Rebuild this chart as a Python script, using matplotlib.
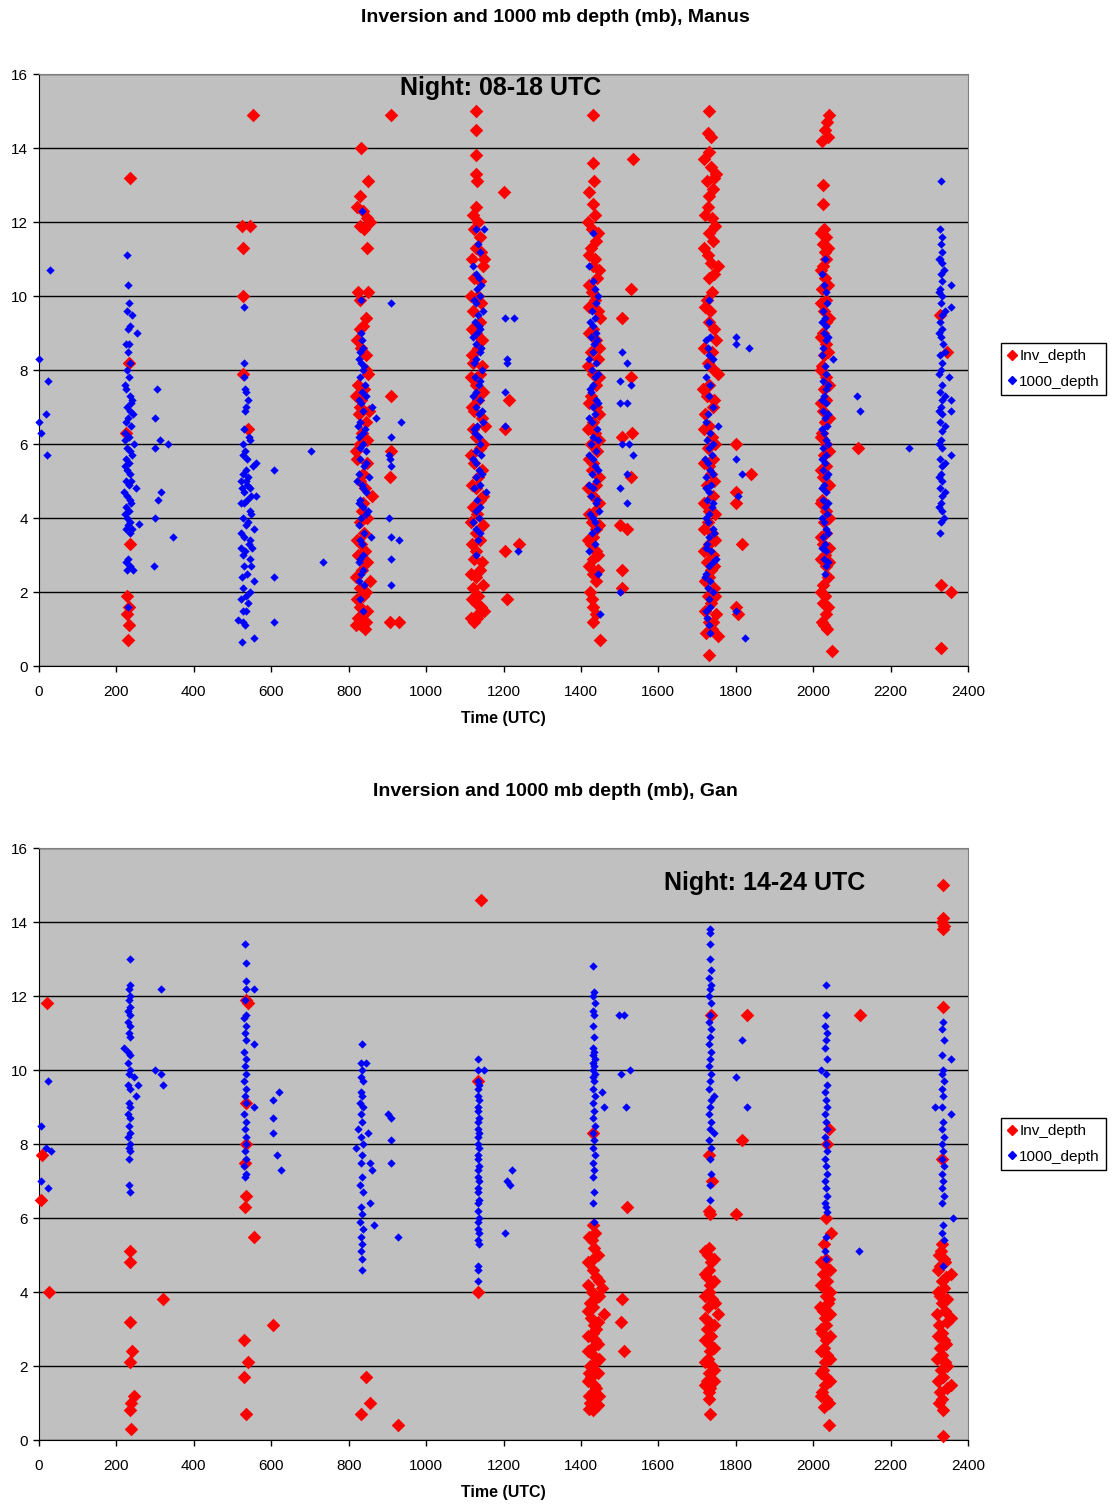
import matplotlib
matplotlib.use("Agg")
import matplotlib.pyplot as plt
from matplotlib.lines import Line2D

# ---------------- DATA (time UTC, depth mb) ----------------
manus_inv = [
    (235,13.2),(232,8.2),(226,6.3),(234,3.3),(228,1.9),(232,1.6),(228,1.4),(232,1.1),(231,0.7),
    (552,14.9),(524,11.9),(545,11.9),(528,11.3),(528,10.0),(528,7.9),(540,6.4),
    (832,14.0),(850,13.1),(830,12.7),(838,12.3),(848,12.1),(855,12.0),(840,11.8),(848,11.3),(825,10.1),
    (850,10.1),(830,9.9),(845,9.4),(838,9.2),(828,9.1),(832,8.6),(845,8.4),(850,7.9),(825,7.6),(840,7.5),
    (832,7.2),(828,7.0),(845,6.6),(835,6.3),(830,6.0),(818,5.8),(848,5.5),(838,5.2),(830,5.0),(842,4.8),
    (860,4.6),(835,4.2),(828,3.9),(840,3.6),(832,3.3),(825,3.0),(848,2.8),(835,2.6),(855,2.3),(828,2.1),
    (838,1.9),(830,1.6),(825,1.3),(840,1.2),(832,1.1),(842,1.0),
    (822,8.8),(846,8.0),(820,7.3),(852,6.9),(826,6.8),(848,6.1),(822,5.6),(836,4.4),(848,4.0),(822,3.4),
    (842,3.1),(818,2.4),(846,2.0),(822,1.8),(848,1.5),(836,1.4),(820,1.1),(845,1.2),(830,11.9),(822,12.4),
    (910,14.9),(910,7.3),(910,5.8),(908,5.1),(908,1.2),(930,1.2),
    (1130,15.0),(1128,14.5),(1130,13.8),(1128,13.3),(1132,13.1),(1128,12.4),(1122,12.2),(1135,12.0),
    (1125,11.8),(1138,11.6),(1128,11.3),(1142,11.2),(1150,11.0),(1148,10.8),(1125,10.5),(1135,10.0),
    (1120,9.6),(1140,9.3),(1128,9.0),(1135,8.6),(1122,8.2),(1140,7.9),(1128,7.6),(1135,7.2),(1125,6.9),
    (1145,6.7),(1152,6.5),(1130,6.2),(1138,5.9),(1125,5.5),(1135,5.1),(1128,4.8),(1140,4.5),(1132,4.1),
    (1115,3.9),(1128,3.6),(1140,3.4),(1130,3.1),(1125,2.9),(1138,2.6),(1130,2.4),(1122,2.1),(1135,1.9),
    (1128,1.7),(1150,1.5),(1115,1.3),(1125,1.2),(1132,1.3),
    (1118,11.0),(1140,10.4),(1115,10.0),(1142,9.8),(1118,9.1),(1145,8.8),(1118,8.4),(1144,8.1),(1115,7.8),
    (1146,7.4),(1118,7.0),(1120,6.4),(1148,6.0),(1115,5.7),(1145,5.3),(1118,4.9),(1146,4.6),(1120,4.3),
    (1148,3.8),(1118,3.3),(1145,2.8),(1115,2.5),(1146,2.2),(1118,1.8),(1142,1.6),(1135,1.4),
    (1200,12.8),(1215,7.2),(1205,6.4),(1240,3.3),(1205,3.1),(1210,1.8),
    (1432,14.9),(1432,13.6),(1434,13.1),(1420,12.8),(1430,12.5),(1436,12.2),(1428,11.8),(1440,11.5),
    (1426,11.3),(1436,11.0),(1430,10.8),(1442,10.5),(1428,10.1),(1436,9.9),(1420,9.7),(1450,9.4),
    (1430,9.1),(1438,8.8),(1426,8.5),(1444,8.3),(1430,7.9),(1438,7.6),(1426,7.3),(1440,7.0),(1430,6.6),
    (1436,6.3),(1425,6.0),(1442,5.8),(1432,5.5),(1428,5.3),(1440,4.9),(1430,4.6),(1436,4.2),(1428,3.9),
    (1440,3.7),(1432,3.5),(1426,3.3),(1438,3.1),(1430,2.9),(1445,2.6),(1432,2.5),(1428,1.8),(1432,1.6),
    (1430,1.2),(1450,0.7),
    (1418,12.0),(1444,11.7),(1420,11.1),(1446,10.7),(1420,10.3),(1444,9.6),(1420,9.0),(1446,8.6),
    (1418,8.1),(1446,7.8),(1420,7.1),(1446,6.8),(1418,6.4),(1446,6.1),(1420,5.6),(1446,5.1),(1418,4.8),
    (1446,4.4),(1420,4.1),(1446,3.8),(1418,3.4),(1444,3.0),(1420,2.7),(1440,2.3),(1424,2.0),(1438,1.4),
    (1535,13.7),(1530,10.2),(1505,9.4),(1530,7.8),(1532,6.3),(1505,6.2),(1530,5.1),(1500,3.8),(1520,3.7),
    (1505,2.6),(1505,2.1),
    (1732,15.0),(1728,14.4),(1736,14.3),(1730,13.9),(1735,13.5),(1750,13.3),(1726,13.1),(1740,12.9),
    (1732,12.7),(1728,12.4),(1738,12.1),(1730,11.7),(1742,11.5),(1728,11.1),(1736,10.9),(1755,10.8),
    (1730,10.5),(1738,10.1),(1726,9.9),(1734,9.6),(1730,9.3),(1750,8.8),(1738,8.5),(1728,8.2),(1755,7.9),
    (1732,7.6),(1726,7.3),(1740,7.0),(1720,6.8),(1732,6.5),(1738,6.2),(1728,5.9),(1742,5.6),(1730,5.4),
    (1736,5.2),(1726,4.9),(1740,4.6),(1732,4.2),(1728,3.9),(1738,3.6),(1730,3.3),(1742,3.0),(1726,2.8),
    (1736,2.6),(1730,2.4),(1744,2.1),(1728,1.9),(1736,1.7),(1750,1.4),(1730,1.2),(1738,1.0),(1755,0.8),
    (1730,0.3),
    (1718,13.7),(1744,13.2),(1720,12.2),(1746,11.9),(1718,11.3),(1744,10.6),(1720,9.7),(1744,9.1),
    (1718,8.6),(1744,8.0),(1716,7.5),(1744,7.2),(1718,6.4),(1746,6.0),(1718,5.5),(1744,5.0),(1718,4.4),
    (1746,4.1),(1718,3.7),(1746,3.4),(1718,3.1),(1744,2.7),(1720,2.3),(1746,1.9),(1720,1.5),(1742,1.2),
    (1722,0.9),
    (1800,6.0),(1840,5.2),(1800,4.7),(1800,4.4),(1815,3.3),(1800,1.6),(1805,1.4),
    (2040,14.9),(2035,14.7),(2030,14.5),(2038,14.3),(2022,14.2),(2026,13.0),(2026,12.5),(2028,11.8),
    (2032,11.6),(2026,11.4),(2030,11.2),(2034,11.0),(2026,10.8),(2030,10.5),(2024,10.2),(2034,9.9),
    (2028,9.6),(2032,9.3),(2026,9.0),(2034,8.7),(2028,8.4),(2024,8.1),(2032,7.8),(2028,7.5),(2034,7.2),
    (2026,6.9),(2030,6.6),(2024,6.3),(2032,6.0),(2028,5.7),(2034,5.4),(2026,5.1),(2030,4.8),(2024,4.5),
    (2032,4.2),(2028,3.9),(2034,3.6),(2026,3.3),(2030,3.0),(2042,2.8),(2034,2.7),(2026,2.2),(2030,1.9),
    (2026,1.7),(2032,1.4),(2028,1.1),(2036,1.0),(2049,0.4),
    (2020,11.7),(2038,11.3),(2020,10.7),(2038,10.3),(2020,9.8),(2040,9.4),(2020,8.9),(2038,8.5),
    (2020,8.0),(2040,7.6),(2020,7.1),(2040,6.7),(2020,6.2),(2040,5.8),(2020,5.3),(2040,4.9),(2020,4.4),
    (2040,4.0),(2020,3.5),(2040,3.2),(2020,2.9),(2038,2.4),(2020,2.0),(2038,1.6),(2022,1.2),
    (2115,5.9),
    (2328,9.5),(2345,8.5),(2330,2.2),(2355,2.0),(2330,0.5),
]

manus_1000 = [
    (0,8.3),(0,6.6),(5,6.3),(20,5.7),(18,6.8),(22,7.7),(28,10.7),
    (228,11.1),(230,10.3),(232,9.8),(228,9.6),(240,9.5),(236,9.2),(230,9.1),(254,9.0),(225,8.7),(232,8.7),
    (230,8.5),(236,8.2),(228,8.0),(232,7.8),(226,7.5),(234,7.3),(240,7.2),(228,7.0),(236,6.9),(244,6.8),
    (230,6.7),(226,6.6),(238,6.5),(222,6.3),(232,6.2),(246,6.0),(228,5.9),(236,5.8),(224,5.6),(232,5.5),
    (228,5.3),(236,5.2),(226,5.0),(232,4.9),(250,4.8),(228,4.6),(234,4.5),(226,4.3),(232,4.2),(228,4.0),
    (236,3.9),(230,3.8),(258,3.85),(226,3.7),(234,3.6),(230,2.9),(226,2.8),(234,2.7),(242,2.6),(228,2.6),
    (230,1.6),
    (222,7.6),(238,7.1),(222,6.1),(240,5.7),(222,5.4),(238,5.0),(220,4.7),(238,4.4),(222,4.1),(240,3.7),
    (304,7.5),(300,6.7),(300,5.9),(312,6.1),(334,6.0),(314,4.7),(308,4.5),(300,4.0),(298,2.7),(347,3.5),
    (530,9.7),(530,8.2),(530,7.8),(532,7.5),(534,7.4),(540,7.2),(536,7.0),(532,6.9),(530,6.4),(542,6.2),
    (546,6.1),(528,6.0),(532,5.8),(528,5.7),(538,5.6),(560,5.5),(552,5.4),(535,5.3),(526,5.2),(540,5.1),
    (534,5.0),(538,4.9),(524,4.8),(530,4.7),(548,4.6),(560,4.6),(538,4.5),(530,4.4),(544,4.2),(528,4.0),
    (540,3.9),(536,3.8),(555,3.7),(530,3.5),(542,3.3),(550,3.2),(532,3.1),(526,3.0),(546,2.9),(530,2.7),
    (538,2.5),(555,2.3),(528,2.1),(534,1.9),(540,1.7),(526,1.5),(534,1.5),(515,1.25),(528,1.2),(532,1.1),
    (525,0.65),(555,0.75),
    (522,5.0),(546,4.8),(522,4.4),(548,4.1),(522,3.6),(546,3.4),(522,3.2),(548,2.7),(524,2.4),(546,2.0),
    (522,1.8),
    (608,5.3),(608,2.4),(608,1.2),(702,5.8),(733,2.8),
    (835,12.3),(832,9.9),(832,9.0),(834,8.8),(836,8.6),(826,8.3),(832,8.2),(838,8.0),(828,7.8),(842,7.6),
    (834,7.4),(826,7.2),(860,7.0),(838,6.9),(870,6.7),(830,6.6),(842,6.4),(826,6.2),(836,6.0),(846,5.8),
    (830,5.6),(840,5.4),(826,5.2),(852,5.1),(834,4.9),(844,4.7),(828,4.5),(838,4.3),(850,4.2),(832,4.0),
    (826,3.8),(840,3.6),(858,3.5),(834,3.3),(830,2.9),(826,2.8),(836,2.6),(832,2.5),(840,2.2),(828,1.8),
    (838,1.5),
    (828,8.5),(840,8.1),(832,7.1),(846,7.3),(824,6.5),(838,6.3),(830,5.9),(844,5.5),(822,5.0),(836,4.8),
    (826,4.4),(844,4.1),(830,3.4),(836,3.0),(826,2.3),
    (910,9.8),(935,6.6),(910,6.2),(905,5.7),(908,5.6),(910,5.4),(905,4.0),(910,3.5),(930,3.4),(910,2.9),
    (910,2.2),
    (1130,11.8),(1150,11.8),(1135,11.4),(1140,11.2),(1128,10.6),(1136,10.5),(1132,10.2),(1140,10.0),
    (1128,9.8),(1146,9.6),(1134,9.5),(1126,9.3),(1140,9.1),(1132,9.0),(1128,8.7),(1138,8.5),(1130,8.3),
    (1144,8.0),(1126,7.8),(1136,7.6),(1130,7.4),(1140,7.2),(1128,7.0),(1136,6.8),(1146,6.6),(1132,6.5),
    (1126,6.3),(1138,6.0),(1130,5.8),(1142,5.7),(1128,5.5),(1136,5.3),(1130,5.1),(1140,4.9),(1155,4.7),
    (1132,4.5),(1128,4.2),(1136,4.0),(1130,3.7),(1134,3.4),(1128,3.0),
    (1120,10.8),(1142,10.3),(1124,9.9),(1136,9.2),(1122,8.9),(1142,8.6),(1124,8.2),(1140,7.7),(1122,7.3),
    (1144,6.9),(1124,6.4),(1136,6.2),(1122,5.6),(1144,5.2),(1124,4.8),(1140,4.3),(1122,3.9),(1138,3.6),
    (1204,9.4),(1228,9.4),(1210,8.3),(1208,8.2),(1205,7.4),(1205,6.5),(1237,3.1),
    (1432,11.7),(1430,10.4),(1436,10.2),(1445,10.0),(1428,9.6),(1436,9.4),(1430,9.2),(1440,9.0),(1426,8.9),
    (1434,8.7),(1430,8.5),(1440,8.2),(1428,8.0),(1436,7.8),(1432,7.6),(1426,7.4),(1440,7.2),(1430,7.0),
    (1436,6.8),(1428,6.6),(1442,6.4),(1432,6.2),(1426,6.0),(1438,5.8),(1430,5.6),(1436,5.4),(1428,5.2),
    (1440,5.0),(1432,4.8),(1426,4.6),(1438,4.4),(1446,4.2),(1430,4.0),(1436,3.9),(1420,3.1),(1445,2.5),
    (1450,1.4),
    (1422,10.8),(1440,9.8),(1424,9.3),(1442,8.8),(1422,8.3),(1444,7.9),(1424,7.5),(1444,7.1),(1422,6.7),
    (1444,6.1),(1422,5.7),(1444,5.3),(1422,4.9),(1442,4.5),(1424,4.1),(1442,3.7),(1428,3.6),(1436,3.3),
    (1505,8.5),(1520,8.2),(1500,7.7),(1530,7.6),(1500,7.1),(1520,7.1),(1505,6.0),(1525,6.0),(1535,5.7),
    (1520,5.2),(1502,4.8),(1520,4.4),(1500,2.0),
    (1730,9.9),(1730,9.3),(1734,8.9),(1728,8.6),(1732,8.4),(1726,8.1),(1734,7.6),(1730,7.3),(1728,6.8),
    (1755,6.5),(1734,6.3),(1726,6.1),(1732,5.9),(1738,5.7),(1728,5.5),(1734,5.3),(1724,5.1),(1736,4.9),
    (1730,4.7),(1726,4.5),(1738,4.3),(1732,4.1),(1728,3.9),(1740,3.7),(1730,3.5),(1726,3.3),(1736,3.1),
    (1750,2.9),(1730,2.7),(1724,2.5),(1734,2.3),(1728,2.1),(1730,1.8),(1734,1.6),(1726,1.3),(1730,1.1),
    (1734,0.9),
    (1722,8.8),(1740,8.3),(1722,7.8),(1740,7.0),(1722,6.6),(1742,6.0),(1720,5.6),(1742,5.2),(1722,4.8),
    (1742,4.4),(1722,4.0),(1744,3.6),(1722,3.2),(1742,2.8),(1720,2.4),(1740,2.0),(1722,1.5),
    (1800,8.9),(1800,8.7),(1835,8.6),(1800,5.6),(1815,5.2),(1805,4.6),(1800,1.5),(1825,0.75),
    (2030,11.0),(2028,10.3),(2032,10.1),(2026,9.6),(2030,9.4),(2034,9.2),(2028,9.0),(2032,8.8),(2026,8.6),
    (2050,8.3),(2030,8.1),(2034,7.9),(2026,7.7),(2032,7.5),(2028,7.3),(2034,7.1),(2026,6.9),(2030,6.7),
    (2036,6.5),(2028,6.3),(2032,6.1),(2026,5.9),(2034,5.7),(2030,5.5),(2026,5.3),(2032,5.1),(2028,4.9),
    (2034,4.7),(2026,4.5),(2030,4.3),(2036,4.1),(2028,3.9),(2032,3.7),(2026,3.5),(2030,3.3),(2034,3.1),
    (2028,2.9),(2032,2.7),(2030,2.5),
    (2022,10.6),(2036,9.8),(2022,9.3),(2038,8.9),(2022,8.4),(2038,7.6),(2022,7.2),(2038,6.8),(2022,6.4),
    (2038,6.0),(2022,5.6),(2038,5.2),(2022,4.8),(2038,4.4),(2022,4.0),(2038,3.6),(2022,3.2),(2038,2.8),
    (2113,7.3),(2120,6.9),(2247,5.9),
    (2331,13.1),(2328,11.8),(2332,11.6),(2330,11.4),(2334,11.2),(2328,11.0),(2332,10.9),(2330,10.6),
    (2334,10.4),(2355,10.3),(2328,10.2),(2332,10.0),(2330,9.8),(2355,9.7),(2334,9.5),(2328,9.3),(2332,9.1),
    (2330,8.9),(2336,8.7),(2328,8.4),(2332,8.2),(2330,8.0),(2350,7.8),(2334,7.6),(2328,7.4),(2357,7.2),
    (2332,7.2),(2330,7.0),(2355,6.9),(2334,6.8),(2328,6.6),(2332,6.35),(2330,6.1),(2334,5.9),(2355,5.7),
    (2328,5.6),(2332,5.4),(2330,5.2),(2334,5.0),(2328,4.8),(2332,4.6),(2330,4.4),(2334,4.2),(2330,3.9),
    (2328,3.6),
    (2324,11.0),(2338,10.7),(2324,10.1),(2340,9.6),(2324,9.0),(2340,8.5),(2324,7.9),(2340,7.3),(2324,6.9),
    (2340,6.5),(2324,6.0),(2340,5.5),(2324,5.1),(2340,4.7),(2324,4.3),(2338,4.0),
]

gan_inv = [
    (20,11.8),(8,7.7),(5,6.5),(25,4.0),
    (235,5.1),(235,4.8),(235,3.2),(240,2.4),(235,2.1),(245,1.2),(238,1.0),(235,0.8),(238,0.3),(320,3.8),
    (535,11.9),(540,11.8),(535,9.1),(535,8.0),(532,7.5),(535,6.6),(533,6.3),(555,5.5),(530,2.7),(540,2.1),
    (530,1.7),(535,0.7),(605,3.1),
    (845,1.7),(855,1.0),(833,0.7),(927,0.4),
    (1142,14.6),(1135,9.7),(1135,4.0),
    (1432,8.3),(1432,5.8),(1436,5.6),(1428,5.4),(1434,5.2),(1432,4.9),(1430,4.6),(1440,4.4),(1455,4.1),
    (1428,4.0),(1436,3.8),(1424,3.7),(1430,3.6),(1460,3.4),(1426,3.3),(1434,3.1),(1440,3.0),(1430,2.9),
    (1436,2.7),(1428,2.5),(1432,2.3),(1438,2.1),(1424,2.0),(1430,1.9),(1426,1.7),(1434,1.5),(1440,1.4),
    (1430,1.3),(1436,1.1),(1424,1.0),(1428,0.9),(1432,0.8),
    (1420,5.5),(1444,5.0),(1418,4.8),(1446,4.3),(1418,4.2),(1446,3.9),(1418,3.5),(1444,3.2),(1418,2.8),
    (1444,2.6),(1418,2.4),(1446,2.2),(1420,1.8),(1444,1.8),(1418,1.6),(1446,1.2),(1420,1.2),(1444,0.95),
    (1420,0.85),
    (1519,6.3),(1506,3.8),(1504,3.2),(1512,2.4),
    (1735,11.5),(1732,7.7),(1738,7.0),(1730,6.2),(1734,6.1),(1732,5.2),(1728,5.0),(1736,4.8),(1730,4.6),
    (1726,4.4),(1734,4.2),(1730,4.0),(1738,3.8),(1728,3.6),(1755,3.4),(1732,3.2),(1726,3.0),(1736,2.8),
    (1730,2.6),(1734,2.4),(1728,2.2),(1738,2.0),(1730,1.8),(1726,1.6),(1734,1.4),(1730,1.3),(1733,0.7),
    (1720,5.1),(1744,4.9),(1720,4.5),(1744,4.3),(1720,3.9),(1746,3.7),(1720,3.3),(1744,3.1),(1720,2.7),
    (1744,2.5),(1720,2.1),(1744,1.9),(1720,1.5),(1744,1.6),(1730,1.1),
    (1830,11.5),(1815,8.1),(1800,6.1),
    (2040,8.4),(2035,8.0),(2032,6.0),(2045,5.6),(2028,5.3),(2034,4.9),(2030,4.7),(2026,4.5),(2036,4.3),
    (2028,4.1),(2032,3.9),(2038,3.7),(2026,3.5),(2030,3.3),(2034,3.1),(2022,2.9),(2032,2.7),(2028,2.5),
    (2036,2.3),(2030,2.1),(2026,1.9),(2034,1.7),(2030,1.5),(2024,1.3),(2032,1.1),(2028,0.9),(2040,0.4),
    (2020,4.8),(2044,4.6),(2020,4.2),(2044,4.0),(2018,3.6),(2044,3.4),(2020,3.0),(2044,2.8),(2020,2.4),
    (2044,2.2),(2020,1.8),(2044,1.6),(2020,1.2),(2042,1.0),(2040,3.8),
    (2120,11.5),
    (2336,15.0),(2336,14.1),(2334,14.0),(2338,13.9),(2336,13.8),(2336,11.7),(2334,7.6),(2334,5.3),
    (2330,5.1),(2338,4.9),(2328,4.7),(2355,4.5),(2332,4.3),(2338,4.1),(2328,3.9),(2334,3.7),(2340,3.5),
    (2355,3.3),(2326,3.1),(2334,2.9),(2338,2.7),(2328,2.5),(2332,2.3),(2340,2.1),(2330,1.9),(2336,1.7),
    (2355,1.5),(2328,1.3),(2334,1.1),(2336,0.8),(2336,0.1),
    (2322,4.6),(2344,4.4),(2322,4.0),(2346,3.8),(2320,3.4),(2346,3.2),(2322,2.8),(2344,2.6),(2320,2.2),
    (2346,2.0),(2322,1.6),(2346,1.4),(2324,1.0),(2340,4.8),(2326,5.0),
]

gan_1000 = [
    (5,8.5),(17,7.9),(32,7.8),(5,7.0),(22,6.8),(22,9.7),
    (234,13.0),(234,12.3),(232,12.2),(236,12.0),(232,11.9),(236,11.7),(230,11.6),(234,11.5),(230,11.3),
    (236,11.2),(232,11.0),(236,10.9),(220,10.6),(230,10.5),(234,10.4),(230,10.2),(236,10.0),(232,9.9),
    (245,9.8),(230,9.6),(255,9.6),(236,9.5),(250,9.3),(232,9.1),(236,9.0),(230,8.8),(234,8.7),(232,8.5),
    (236,8.3),(230,8.2),(234,8.0),(232,7.9),(236,7.8),(232,7.6),(232,6.9),(234,6.7),
    (300,10.0),(315,9.9),(320,9.6),(315,12.2),
    (533,13.4),(534,12.9),(534,12.4),(535,12.2),(555,12.2),(532,11.9),(536,11.5),(530,11.4),(534,11.2),
    (532,11.0),(536,10.8),(555,10.7),(530,10.5),(534,10.3),(532,10.1),(536,9.9),(530,9.7),(534,9.5),
    (532,9.3),(536,9.1),(555,9.0),(530,8.8),(534,8.6),(532,8.4),(536,8.2),(534,8.0),(532,7.8),(536,7.6),
    (530,7.4),(534,7.2),(533,7.1),
    (605,9.2),(620,9.4),(605,8.7),(605,8.3),(615,7.7),(625,7.3),
    (834,10.7),(832,10.2),(845,10.2),(834,10.0),(832,9.8),(836,9.7),(832,9.4),(834,9.3),(830,9.1),
    (836,9.0),(832,8.8),(834,8.6),(825,8.4),(850,8.3),(832,8.2),(836,8.0),(820,7.9),(834,7.7),(855,7.5),
    (832,7.5),(860,7.3),(834,7.1),(830,6.9),(836,6.7),(855,6.4),(832,6.3),(834,6.1),(830,5.9),(865,5.8),
    (836,5.7),(832,5.5),(834,5.3),(832,5.1),(834,4.9),(834,4.6),
    (901,8.8),(910,8.7),(910,8.1),(910,7.5),(927,5.5),
    (1135,10.3),(1150,10.0),(1135,10.0),(1133,9.7),(1137,9.6),(1135,9.5),(1133,9.3),(1137,9.2),(1135,9.0),
    (1133,8.9),(1137,8.7),(1135,8.6),(1133,8.4),(1137,8.3),(1135,8.2),(1133,8.0),(1137,7.9),(1135,7.7),
    (1133,7.6),(1137,7.4),(1135,7.3),(1133,7.1),(1137,7.0),(1135,6.8),(1133,6.7),(1137,6.5),(1135,6.4),
    (1133,6.2),(1137,6.0),(1135,5.9),(1133,5.7),(1137,5.6),(1135,5.4),(1137,5.3),(1135,4.7),(1133,4.6),
    (1135,4.3),
    (1223,7.3),(1210,7.0),(1216,6.9),(1203,5.6),
    (1432,12.8),(1434,12.1),(1432,12.0),(1436,11.8),(1432,11.6),(1434,11.5),(1432,11.2),(1434,10.9),
    (1430,10.6),(1434,10.5),(1432,10.4),(1436,10.3),(1430,10.2),(1434,10.1),(1432,10.0),(1436,9.9),
    (1430,9.8),(1434,9.7),(1432,9.5),(1455,9.4),(1436,9.3),(1430,9.1),(1460,9.0),(1434,8.9),(1432,8.7),
    (1436,8.5),(1430,8.3),(1434,8.1),(1432,7.9),(1436,7.7),(1430,7.5),(1434,7.3),(1432,7.1),(1434,6.7),
    (1432,6.4),(1434,5.9),
    (1498,11.5),(1512,11.5),(1504,9.9),(1528,10.0),(1517,9.0),
    (1733,13.8),(1733,13.7),(1733,13.4),(1733,13.0),(1735,12.7),(1731,12.5),(1735,12.3),(1733,12.2),
    (1731,12.0),(1735,11.8),(1733,11.5),(1731,11.3),(1735,11.1),(1733,10.9),(1731,10.7),(1735,10.5),
    (1733,10.3),(1731,10.1),(1735,9.9),(1733,9.7),(1731,9.5),(1745,9.3),(1735,9.2),(1733,9.0),(1731,8.8),
    (1735,8.6),(1733,8.4),(1745,8.3),(1731,8.1),(1735,7.9),(1733,7.6),(1735,7.2),(1733,6.9),(1733,6.5),
    (1815,10.8),(1800,9.8),(1828,9.0),
    (2033,12.3),(2033,11.5),(2031,11.2),(2035,11.0),(2033,10.8),(2031,10.6),(2035,10.3),(2020,10.0),
    (2033,9.9),(2035,9.6),(2031,9.4),(2033,9.2),(2035,9.0),(2031,8.8),(2033,8.6),(2035,8.4),(2031,8.2),
    (2033,8.0),(2035,7.8),(2031,7.6),(2033,7.4),(2035,7.2),(2031,7.0),(2033,6.8),(2035,6.6),(2031,6.4),
    (2033,6.3),(2035,6.15),(2033,5.5),(2031,5.1),(2033,4.9),
    (2118,5.1),
    (2336,11.3),(2334,11.1),(2338,10.8),(2334,10.4),(2355,10.3),(2336,10.0),(2334,9.9),(2338,9.7),
    (2334,9.5),(2336,9.3),(2315,9.0),(2334,9.0),(2355,8.8),(2336,8.6),(2334,8.4),(2338,8.2),(2334,8.0),
    (2336,7.8),(2334,7.6),(2338,7.4),(2334,7.2),(2336,7.0),(2334,6.8),(2338,6.6),(2334,6.4),(2360,6.0),
    (2336,5.8),(2334,5.6),(2338,5.4),(2336,4.7),
]

titles = ["Inversion and 1000 mb depth (mb), Manus", "Inversion and 1000 mb depth (mb), Gan"]
night_labels = ["Night: 08-18 UTC", "Night: 14-24 UTC"]
series_names = ["Inv_depth", "1000_depth"]
xticks = list(range(0, 2401, 200))
yticks = list(range(0, 17, 2))

# ---------------- FIGURE ----------------
plt.rcParams['font.family'] = ['Liberation Sans', 'DejaVu Sans']
W, H = 1114, 1506
fig = plt.figure(figsize=(W / 100, H / 100), dpi=100)

RED = '#FF0000'
BLUE = '#0000FF'
red_s = 48
blue_s = 18

panels = [
    (manus_inv, manus_1000, 74, 666, 17, (501, 88), 343),
    (gan_inv, gan_1000, 848, 1440, 791, (765, 883), 1118),
]

for i, (inv, thou, ytop, ybot, ttl_y, night_xy, leg_y) in enumerate(panels):
    ax = fig.add_axes([39 / W, 1 - ybot / H, (968 - 39) / W, (ybot - ytop) / H])
    ax.set_facecolor('#C0C0C0')
    ax.set_xlim(0, 2400)
    ax.set_ylim(0, 16)
    ax.set_xticks(xticks)
    ax.set_yticks(yticks)
    ax.set_axisbelow(True)
    ax.yaxis.grid(True, color='black', linewidth=1.0)
    for s in ['top', 'right']:
        ax.spines[s].set_color('#808080')
    for s in ['left', 'bottom']:
        ax.spines[s].set_color('black')
    ax.tick_params(direction='out', length=4, labelsize=11, colors='black', width=1)
    ax.tick_params(axis='x', pad=9.5)
    ax.tick_params(axis='y', pad=4)

    ax.scatter([p[0] for p in inv], [p[1] for p in inv], marker='D', s=red_s,
               c=RED, linewidths=0, zorder=3, clip_on=False)
    ax.scatter([p[0] for p in thou], [p[1] for p in thou], marker='D', s=blue_s,
               c=BLUE, linewidths=0, zorder=4, clip_on=False)

    ax.set_xlabel("Time (UTC)", fontsize=11.5, fontweight='bold', labelpad=9)
    fig.text(555 / W, 1 - ttl_y / H, titles[i], ha='center', va='center',
             fontsize=14, fontweight='bold')
    fig.text(night_xy[0] / W, 1 - night_xy[1] / H, night_labels[i], ha='center',
             va='center', fontsize=18, fontweight='bold')

    handles = [Line2D([], [], marker='D', color=RED, linestyle='none', markersize=5.5),
               Line2D([], [], marker='D', color=BLUE, linestyle='none', markersize=4)]
    leg = fig.legend(handles, series_names, loc='upper left',
                     bbox_to_anchor=(1001 / W, 1 - leg_y / H), fontsize=11,
                     frameon=True, fancybox=False, edgecolor='black', framealpha=1,
                     borderpad=0.4, handlelength=0.6, handletextpad=0.2,
                     labelspacing=0.75, borderaxespad=0)
    leg.get_frame().set_linewidth(1.0)

fig.savefig("out.png", dpi=100, facecolor='white')
